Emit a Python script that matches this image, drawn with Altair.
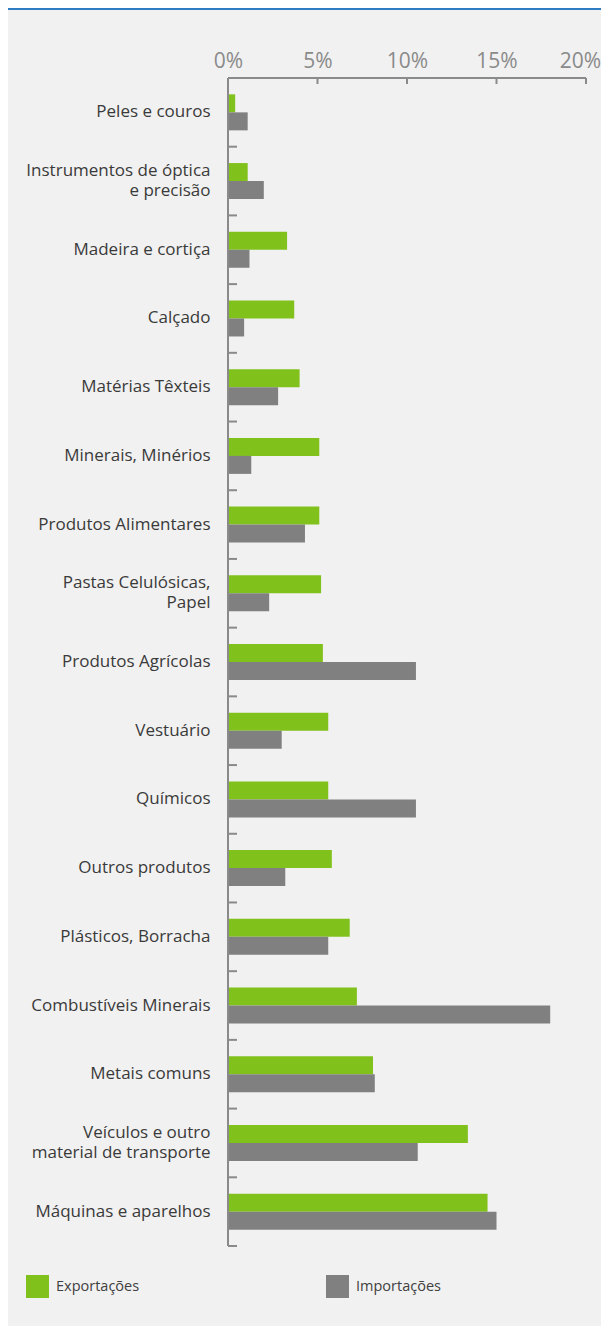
import altair as alt
import pandas as pd

categories = [
    "Peles e couros",
    "Instrumentos de óptica|e precisão",
    "Madeira e cortiça",
    "Calçado",
    "Matérias Têxteis",
    "Minerais, Minérios",
    "Produtos Alimentares",
    "Pastas Celulósicas,|Papel",
    "Produtos Agrícolas",
    "Vestuário",
    "Químicos",
    "Outros produtos",
    "Plásticos, Borracha",
    "Combustíveis Minerais",
    "Metais comuns",
    "Veículos e outro|material de transporte",
    "Máquinas e aparelhos",
]
exportacoes = [0.4, 1.1, 3.3, 3.7, 4.0, 5.1, 5.1, 5.2, 5.3, 5.6, 5.6, 5.8, 6.8, 7.2, 8.1, 13.4, 14.5]
importacoes = [1.1, 2.0, 1.2, 0.9, 2.8, 1.3, 4.3, 2.3, 10.5, 3.0, 10.5, 3.2, 5.6, 18.0, 8.2, 10.6, 15.0]
series = ["Exportações", "Importações"]
x_ticks = [0, 5, 10, 15, 20]

GREEN = "#80c11c"
GREY = "#808080"
AXIS = "#8a8a8a"
FONT = "Open Sans"

rows = []
for c, e, i in zip(categories, exportacoes, importacoes):
    rows.append({"cat": c, "serie": series[0], "v": e})
    rows.append({"cat": c, "serie": series[1], "v": i})
df = pd.DataFrame(rows)
cat_df = pd.DataFrame({"cat": categories})
tick_df = pd.DataFrame({"v": x_ticks})
one = pd.DataFrame({"a": [0]})

xscale = alt.Scale(domain=[0, 20], nice=False, zero=True)
yscale = alt.Scale(domain=categories, paddingInner=0, paddingOuter=0)

bars = alt.Chart(df).mark_bar().encode(
    x=alt.X(
        "v:Q",
        scale=xscale,
        axis=alt.Axis(
            orient="top",
            values=x_ticks,
            labelExpr="datum.value + '%'",
            ticks=False,
            tickSize=0,
            domain=False,
            grid=False,
            labelPadding=7,
            labelFontSize=21,
            labelColor=AXIS,
            labelFont=FONT,
            labelFlush=False,
            labelOverlap=False,
            labelOffset={"condition": {"test": "datum.value == 20", "value": -6}, "value": 0},
        ),
        title=None,
    ),
    y=alt.Y(
        "cat:N",
        sort=categories,
        scale=yscale,
        axis=alt.Axis(
            ticks=False,
            tickSize=0,
            domain=False,
            labelExpr="split(datum.label, '|')",
            labelPadding=18,
            labelFontSize=17,
            labelLineHeight=20,
            labelColor="#3a3a3a",
            labelFont=FONT,
            labelLimit=300,
            labelOffset={
                "condition": {"test": "indexof(datum.value, '|') >= 0", "value": -10},
                "value": 0,
            },
        ),
        title=None,
    ),
    yOffset=alt.YOffset(
        "serie:N",
        sort=series,
        scale=alt.Scale(domain=series, paddingInner=0, paddingOuter=0.908),
    ),
    color=alt.Color(
        "serie:N",
        sort=series,
        scale=alt.Scale(domain=series, range=[GREEN, GREY]),
        legend=alt.Legend(
            title=None,
            orient="none",
            legendX=-202,
            legendY=1197,
            direction="horizontal",
            columns=2,
            columnPadding=186,
            padding=0,
            symbolType="square",
            symbolSize=529,
            symbolStrokeWidth=0,
            labelOffset=7,
            labelFontSize=14.5,
            labelFont=FONT,
            labelColor="#404040",
        ),
    ),
)

y_domain = alt.Chart(one).mark_rule(color=AXIS, strokeWidth=2).encode(
    x=alt.datum(0, scale=xscale)
)
x_domain = alt.Chart(one).mark_rule(color=AXIS, strokeWidth=2).encode(
    x=alt.datum(0), x2=alt.datum(20), y=alt.value(0)
)
x_tick_marks = alt.Chart(tick_df).mark_rule(color=AXIS, strokeWidth=2).encode(
    x=alt.X("v:Q"), y=alt.value(0), y2=alt.value(6)
)
y_tick_marks = alt.Chart(cat_df).mark_rule(color=AXIS, strokeWidth=2).encode(
    y=alt.Y("cat:N", sort=categories, bandPosition=1),
    x=alt.datum(0),
    x2=alt.value(9),
)
header = alt.Chart(one).mark_rect(color="#2e7dc2").encode(
    x=alt.value(-220), x2=alt.value(373), y=alt.value(-70), y2=alt.value(-68)
)

chart = (
    alt.layer(bars, x_tick_marks, y_tick_marks, x_domain, y_domain, header)
    .properties(
        width=358,
        height=1168,
        background="#f1f1f1",
        autosize=alt.AutoSizeParams(type="none"),
        padding={"left": 220, "top": 70, "right": 15, "bottom": 80},
    )
    .configure_view(stroke=None)
)

chart.save("out.html", embed_options={"renderer": "svg", "actions": False})
